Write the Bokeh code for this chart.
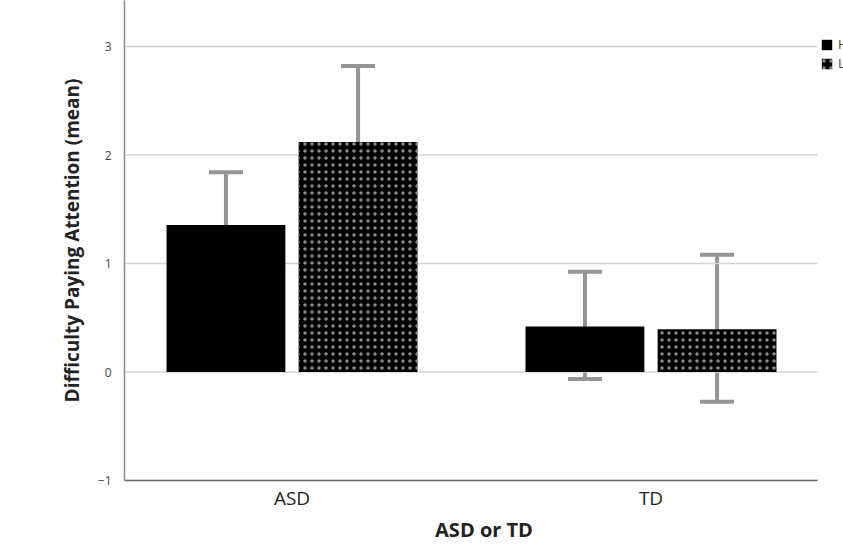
from bokeh.plotting import figure
from bokeh.models import (ColumnDataSource, Range1d, Whisker, TeeHead,
                          Legend, LegendItem, FixedTicker)
from bokeh.embed import file_html
from bokeh.resources import INLINE

groups = ["ASD", "TD"]
series_names = ["High", "Low"]
mean_a = [1.355, 0.42]
lower_a = [0.87, -0.065]
upper_a = [1.84, 0.925]
mean_b = [2.12, 0.395]
lower_b = [1.425, -0.275]
upper_b = [2.82, 1.08]
y_ticks = [-1, 0, 1, 2, 3]

# layout (not data): group positions on a numeric axis
pos = [i + 0.5 for i in range(len(groups))]
off = 0.184
w = 0.331
x_start, x_axis_end, x_end = 0.0334, 1.9638, 2.0362

src_a = ColumnDataSource(dict(x=[v - off for v in pos], y=mean_a, lo=lower_a, hi=upper_a))
src_b = ColumnDataSource(dict(x=[v + off for v in pos], y=mean_b, lo=lower_b, hi=upper_b))

FONT = "Open Sans"

p = figure(width=843, height=545, x_range=Range1d(x_start, x_end),
           y_range=Range1d(-1, 3.424), output_backend="svg", toolbar_location=None,
           min_border_left=124, min_border_right=0, min_border_top=0, min_border_bottom=65)
p.outline_line_color = None
p.background_fill_color = "white"
p.border_fill_color = "white"

# horizontal gridlines ending where the axis ends
p.xgrid.grid_line_color = None
p.ygrid.grid_line_color = None
p.segment(x0=[x_start] * len(y_ticks), x1=[x_axis_end] * len(y_ticks), y0=y_ticks, y1=y_ticks,
          line_color="#d4d4d4", line_width=1.5)

ra = p.vbar(x="x", top="y", bottom=0, width=w, source=src_a,
            fill_color="black", line_color=None)
rb = p.vbar(x="x", top="y", bottom=0, width=w, source=src_b,
            fill_color="black", line_color=None, hatch_pattern="dot", hatch_color="#8c8c8c",
            hatch_scale=7, hatch_weight=1)

err_col = "#959595"
for src in (src_a, src_b):
    wk = Whisker(base="x", upper="hi", lower="lo", source=src,
                 line_color=err_col, line_width=4,
                 upper_head=TeeHead(size=34, line_color=err_col, line_width=4),
                 lower_head=TeeHead(size=34, line_color=err_col, line_width=4))
    p.add_layout(wk)

p.yaxis.ticker = FixedTicker(ticks=y_ticks)
p.yaxis.axis_line_color = "#8a8a8a"
p.yaxis.axis_line_width = 1.5
p.yaxis.major_tick_line_color = None
p.yaxis.minor_tick_line_color = None
p.yaxis.major_label_text_font = FONT
p.yaxis.major_label_text_font_size = "12px"
p.yaxis.major_label_text_color = "#444444"
p.yaxis.major_label_standoff = 7
p.yaxis.axis_label = "Difficulty Paying Attention (mean)"
p.yaxis.axis_label_text_font = FONT
p.yaxis.axis_label_text_font_style = "bold"
p.yaxis.axis_label_text_font_size = "19px"
p.yaxis.axis_label_text_color = "#222222"
p.yaxis.axis_label_standoff = 10

p.xaxis.ticker = FixedTicker(ticks=pos)
p.xaxis.major_label_overrides = {v: g for v, g in zip(pos, groups)}
p.xaxis.bounds = (x_start, x_axis_end)
p.xaxis.axis_line_color = "#6a6a6a"
p.xaxis.axis_line_width = 1.5
p.xaxis.major_tick_line_color = None
p.xaxis.minor_tick_line_color = None
p.xaxis.major_label_text_font = FONT
p.xaxis.major_label_text_font_size = "19px"
p.xaxis.major_label_text_color = "#222222"
p.xaxis.major_label_standoff = -2
p.xaxis.axis_label = "ASD or TD"
p.xaxis.axis_label_text_font = FONT
p.xaxis.axis_label_text_font_style = "bold"
p.xaxis.axis_label_text_font_size = "20px"
p.xaxis.axis_label_text_color = "#222222"
p.xaxis.axis_label_standoff = 2

legend = Legend(items=[LegendItem(label=series_names[0], renderers=[ra]),
                       LegendItem(label=series_names[1], renderers=[rb])],
                location=(696, 408), padding=0, margin=0, spacing=1,
                glyph_width=13, glyph_height=13, label_height=13, label_standoff=5,
                label_text_font=FONT, label_text_font_size="13px",
                border_line_color=None, background_fill_alpha=0)
p.add_layout(legend)

open("out.html", "w").write(file_html(p, INLINE))
